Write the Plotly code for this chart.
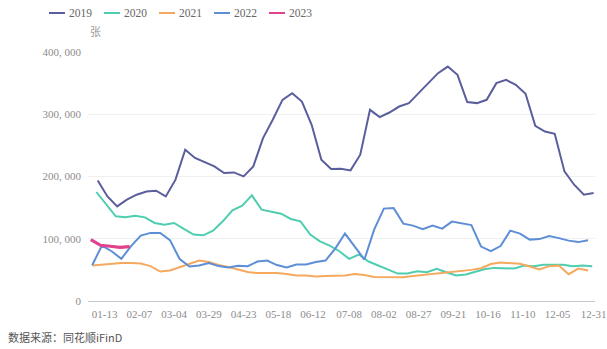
import pandas as pd
import plotly.graph_objects as go

# Weekly volumes (张) by year; dates are placed on one shared calendar year
years = ["2019", "2020", "2021", "2022", "2023"]
first_week = {
    "2019": "2019-01-08",
    "2020": "2019-01-07",
    "2021": "2019-01-04",
    "2022": "2019-01-04",
    "2023": "2019-01-03",
}

v2019 = [193700, 168000, 152000, 162800, 170800, 176000, 177200, 168000, 194900, 243000,
         229700, 222600, 216200, 205600, 206600, 200200, 216200, 261700, 291100, 323200,
         333900, 320400, 283100, 226900, 212000, 212500, 209800, 235000, 307100, 295400,
         302800, 312400, 317900, 333900, 350000, 366000, 376600, 363300, 319500, 317900,
         323200, 350000, 355300, 347200, 332800, 281500, 272300, 268600, 208200, 186800,
         170800, 173500]
v2020 = [175100, 155900, 136000, 134400, 137000, 134400, 125400, 122700, 125400, 115800,
         106700, 105500, 113000, 128000, 145600, 153200, 169700, 146800, 144000, 140300,
         131800, 128000, 106700, 95900, 89000, 79900, 67700, 74600, 63400, 56900,
         50500, 44100, 44100, 47800, 46200, 51600, 46200, 40900, 42500, 46500,
         51300, 53200, 52600, 52100, 56900, 55800, 58100, 58500, 58100, 55800,
         56900, 55800]
v2021 = [56900, 58500, 60100, 61000, 61000, 60100, 56100, 47300, 48900, 54500,
         60100, 65000, 62500, 57700, 54500, 50500, 46500, 44900, 44900, 44900,
         43300, 40900, 40900, 39300, 40100, 40900, 40900, 43300, 41700, 38500,
         38200, 38200, 38200, 40100, 41700, 43300, 44900, 46500, 48900, 50000,
         52600, 59300, 61700, 61000, 59700, 55300, 50500, 56000, 57000, 43000,
         52000, 49000]
v2022 = [57400, 89000, 79900, 67800, 88200, 105000, 109400, 109400, 97800, 67400,
         55300, 56900, 61000, 56100, 53700, 56600, 55800, 63400, 65000, 57700,
         53700, 58500, 58500, 62500, 65000, 84200, 108300, 88200, 66600, 114700,
         148400, 149500, 124300, 121100, 115500, 121100, 116300, 127500, 124300, 121900,
         87400, 80200, 88200, 113100, 108300, 98600, 99400, 104300, 101000, 97000,
         94600, 97500]
v2023 = [98600, 89500, 87900, 86300, 87400]

series = {"2019": v2019, "2020": v2020, "2021": v2021, "2022": v2022, "2023": v2023}
colors = {"2019": "#5b5e9c", "2020": "#4fcdb0", "2021": "#f5a95e", "2022": "#5d8ed6", "2023": "#e0428c"}
widths = {"2019": 2, "2020": 2, "2021": 2, "2022": 2, "2023": 3.2}

x_tick_dates = ["2019-01-13", "2019-02-07", "2019-03-04", "2019-03-29", "2019-04-23",
                "2019-05-18", "2019-06-12", "2019-07-08", "2019-08-02", "2019-08-27",
                "2019-09-21", "2019-10-16", "2019-11-10", "2019-12-05", "2019-12-31"]
x_tick_labels = ["01-13", "02-07", "03-04", "03-29", "04-23", "05-18", "06-12", "07-08",
                 "08-02", "08-27", "09-21", "10-16", "11-10", "12-05", "12-31"]
y_tick_vals = [0, 100000, 200000, 300000, 400000]
y_tick_labels = ["0", "100, 000", "200, 000", "300, 000", "400, 000"]

W, H = 607, 349
ML, MR, MT, MB = 88, 12, 52, 48
PW, PH = W - ML - MR, H - MT - MB


def fx(px):
    return (px - ML) / PW


def fy(py):
    return (H - MB - py) / PH


fig = go.Figure()
for yr in years:
    vals = series[yr]
    dates = pd.date_range(first_week[yr], periods=len(vals), freq="7D")
    fig.add_trace(go.Scatter(
        x=dates, y=vals, mode="lines", name=yr,
        line=dict(color=colors[yr], width=widths[yr], shape="linear"),
        showlegend=False,
    ))

# legend row drawn as short line samples with labels
shapes = []
annotations = []
for i, yr in enumerate(years):
    x0 = 49 + 55 * i
    shapes.append(dict(type="line", xref="paper", yref="paper",
                       x0=fx(x0), x1=fx(x0 + 16), y0=fy(13), y1=fy(13),
                       line=dict(color=colors[yr], width=2)))
    annotations.append(dict(text=yr, xref="paper", yref="paper", x=fx(x0 + 18), y=fy(13),
                            xanchor="left", yanchor="middle", showarrow=False,
                            font=dict(family="Liberation Serif", size=11.5, color="#666666")))

annotations.append(dict(text="张", xref="paper", yref="paper", x=fx(95), y=fy(31),
                        xanchor="center", yanchor="middle", showarrow=False,
                        font=dict(family="Noto Sans CJK SC", size=11, color="#9a9a9a")))
annotations.append(dict(text="数据来源：同花顺iFinD", xref="paper", yref="paper", x=fx(6), y=fy(337),
                        xanchor="left", yanchor="middle", showarrow=False,
                        font=dict(family="Noto Sans CJK SC", size=11, color="#555555")))

fig.update_layout(
    width=W, height=H,
    margin=dict(l=ML, r=MR, t=MT, b=MB, pad=0),
    paper_bgcolor="white", plot_bgcolor="white",
    shapes=shapes, annotations=annotations,
    showlegend=False,
    xaxis=dict(
        type="date", range=["2019-01-01", "2020-01-01"],
        tickvals=x_tick_dates, ticktext=x_tick_labels,
        showgrid=False, zeroline=False,
        showline=True, linecolor="#c3c6ce", linewidth=1,
        ticks="", ticklabelstandoff=3,
        tickfont=dict(family="Liberation Serif", size=11, color="#8c8c8c"),
        automargin=False, fixedrange=True,
    ),
    yaxis=dict(
        range=[0, 400000],
        tickvals=y_tick_vals, ticktext=y_tick_labels,
        showgrid=True, gridcolor="#f0f0f0", gridwidth=1,
        zeroline=False, showline=False,
        ticks="", ticklabelstandoff=6,
        tickfont=dict(family="Liberation Serif", size=11, color="#8c8c8c"),
        automargin=False, fixedrange=True,
    ),
)

fig.write_html("out.html")
